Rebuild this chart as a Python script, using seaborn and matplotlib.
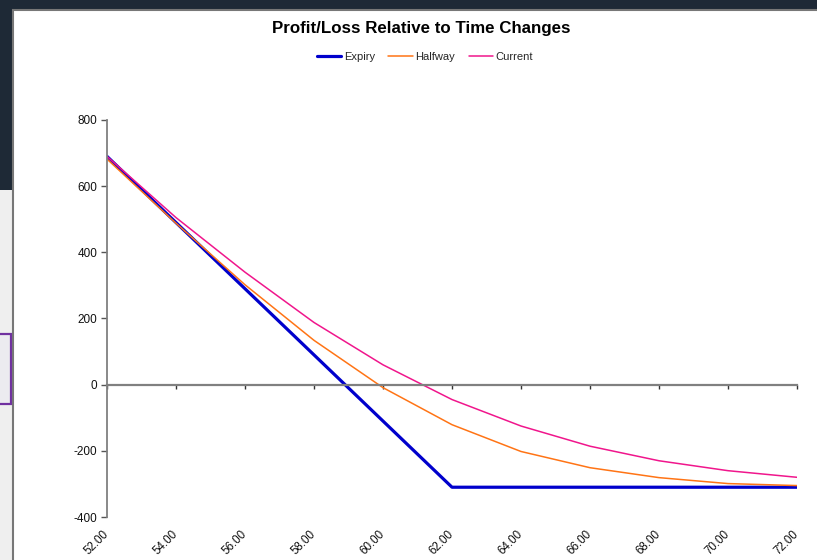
import matplotlib
matplotlib.use("Agg")
import matplotlib.pyplot as plt
from matplotlib.patches import Rectangle
import seaborn as sns
import pandas as pd

# underlying price (x axis)
prices = [52, 54, 56, 58, 60, 62, 64, 66, 68, 70, 72]
tick_labels = [f"{p:.2f}" for p in prices]

# profit / loss at each price
expiry = [690, 490, 290, 90, -110, -310, -310, -310, -310, -310, -310]
halfway = [682, 488, 302, 134, -9, -121, -202, -251, -281, -299, -305]
current = [690, 505, 340, 188, 60, -45, -125, -186, -230, -260, -280]

df = pd.DataFrame({"Price": prices, "Expiry": expiry, "Halfway": halfway, "Current": current})

sns.set_style("white")
plt.rcParams["font.family"] = ["Liberation Sans", "DejaVu Sans"]
plt.rcParams["axes.unicode_minus"] = False

fig = plt.figure(figsize=(8.17, 5.6), dpi=100)
fig.patch.set_facecolor("#1e2936")

# screenshot frame around the chart
fig.add_artist(Rectangle((0, 0), 12 / 817, 370 / 560, transform=fig.transFigure,
                         facecolor="#efefef", edgecolor="none", zorder=0))
fig.add_artist(Rectangle((-0.01, (560 - 404) / 560), 11 / 817 + 0.01, 70 / 560,
                         transform=fig.transFigure, facecolor="#ecebf0",
                         edgecolor="#7030a0", lw=1.6, zorder=0))
fig.add_artist(Rectangle((13 / 817, -0.01), 1, (550 / 560) + 0.01, transform=fig.transFigure,
                         facecolor="white", edgecolor="#777777", lw=1.5, zorder=0))

ax = fig.add_axes([107 / 817, 43 / 560, 690 / 817, 397 / 560])
ax.set_facecolor("none")

sns.lineplot(data=df, x="Price", y="Expiry", ax=ax, color="#0000cc", lw=2.3, label="Expiry")
sns.lineplot(data=df, x="Price", y="Halfway", ax=ax, color="#ff7415", lw=1.1, label="Halfway")
sns.lineplot(data=df, x="Price", y="Current", ax=ax, color="#f0168c", lw=1.1, label="Current")

ax.set_xlim(52, 72)
ax.set_ylim(-400, 800)
ax.set_xlabel("")
ax.set_ylabel("")
ax.set_yticks([-400, -200, 0, 200, 400, 600, 800])
ax.tick_params(axis="y", direction="out", length=4, width=1, color="#555555",
               labelsize=8.5, labelcolor="#111111", pad=3, left=True)

for side in ["top", "right"]:
    ax.spines[side].set_visible(False)
ax.spines["left"].set_color("#808080")
ax.spines["left"].set_linewidth(1.3)
ax.spines["bottom"].set_position(("data", 0))
ax.spines["bottom"].set_color("#808080")
ax.spines["bottom"].set_linewidth(1.6)
ax.set_xticks(prices)
ax.tick_params(axis="x", direction="out", length=3, width=1, color="#333333",
               labelbottom=False, bottom=True)

# price labels along the bottom edge
sec = ax.secondary_xaxis("bottom")
sec.set_xticks(prices, tick_labels)
sec.spines["bottom"].set_visible(False)
sec.tick_params(length=0, labelsize=8.3, labelcolor="#111111", pad=11)
for lab in sec.get_xticklabels():
    lab.set_rotation(45)
    lab.set_ha("right")
    lab.set_va("center")
    lab.set_rotation_mode("anchor")

ax.legend(loc="center", bbox_to_anchor=(425 / 817, 1 - 57 / 560), bbox_transform=fig.transFigure,
          ncol=3, frameon=False, fontsize=8, handlelength=2.2, handletextpad=0.25,
          columnspacing=1.2)

fig.text(421 / 817, 1 - 28 / 560, "Profit/Loss Relative to Time Changes",
         ha="center", va="center", fontsize=12.2, fontweight="bold", color="black")

fig.savefig("out.png", dpi=100, facecolor=fig.get_facecolor())
